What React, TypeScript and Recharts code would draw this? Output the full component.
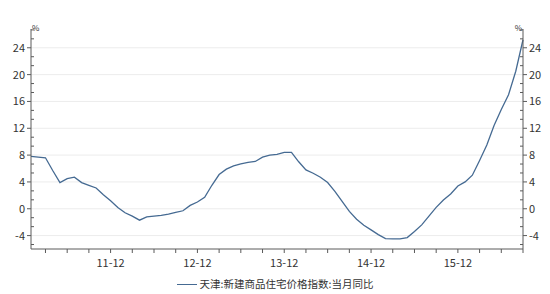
import { LineChart, Line, XAxis, YAxis, CartesianGrid } from 'recharts';

const FONT = '"Noto Sans CJK SC", "Open Sans", sans-serif';
const LINE_COLOR = '#456a92';
const AXIS_COLOR = '#5a5a5a';

const seriesName = '天津:新建商品住宅价格指数:当月同比';

// 2011-01 .. 2016-09, monthly
const months = [
  '11-01', '11-02', '11-03', '11-04', '11-05', '11-06', '11-07', '11-08', '11-09', '11-10', '11-11', '11-12',
  '12-01', '12-02', '12-03', '12-04', '12-05', '12-06', '12-07', '12-08', '12-09', '12-10', '12-11', '12-12',
  '13-01', '13-02', '13-03', '13-04', '13-05', '13-06', '13-07', '13-08', '13-09', '13-10', '13-11', '13-12',
  '14-01', '14-02', '14-03', '14-04', '14-05', '14-06', '14-07', '14-08', '14-09', '14-10', '14-11', '14-12',
  '15-01', '15-02', '15-03', '15-04', '15-05', '15-06', '15-07', '15-08', '15-09', '15-10', '15-11', '15-12',
  '16-01', '16-02', '16-03', '16-04', '16-05', '16-06', '16-07', '16-08', '16-09',
];

const yoy = [
  7.8, 7.7, 7.6, 5.7, 3.9, 4.5, 4.7, 3.9, 3.5, 3.1, 2.1, 1.2,
  0.2, -0.6, -1.1, -1.7, -1.2, -1.1, -1.0, -0.8, -0.55, -0.3, 0.5, 1.0,
  1.7, 3.5, 5.1, 5.9, 6.4, 6.7, 6.9, 7.05, 7.7, 8.0, 8.1, 8.4,
  8.4, 7.0, 5.8, 5.3, 4.7, 3.9, 2.6, 1.1, -0.4, -1.55, -2.45, -3.15,
  -3.85, -4.45, -4.5, -4.5, -4.3, -3.4, -2.4, -1.1, 0.2, 1.3, 2.2, 3.4,
  4.0, 5.0, 7.2, 9.5, 12.4, 14.8, 17.0, 20.5, 25.2,
];

const yMajorTicks = [-4, 0, 4, 8, 12, 16, 20, 24];
const yDomain: [number, number] = [-6, 26.8];

const data = months.map((m, i) => ({ idx: i, month: m, value: yoy[i] }));

// quarter-end months carry a tick; only December gets a label
const xTicks = months.map((m, i) => ({ m, i })).filter((d) => ['03', '06', '09', '12'].includes(d.m.slice(3))).map((d) => d.i);

// major ticks every 4, two minor ticks in between
const yTicks: number[] = [];
for (let k = Math.ceil((yDomain[0] * 3) / 4); (k * 4) / 3 <= yDomain[1]; k++) yTicks.push((k * 4) / 3);

const isMajor = (v: number) => Math.abs(v / 4 - Math.round(v / 4)) < 1e-6;

function YTick({ x, y, payload, side }: any) {
  const v = payload.value;
  const dir = side === 'left' ? -1 : 1;
  if (isMajor(v)) {
    return (
      <g>
        <line x1={x} x2={x + dir * 4} y1={y} y2={y} stroke={AXIS_COLOR} />
        <text
          x={x + dir * 6}
          y={y}
          dy="0.36em"
          textAnchor={side === 'left' ? 'end' : 'start'}
          fontSize={11}
          fontFamily={FONT}
          fill="#333"
        >
          {Math.round(v)}
        </text>
      </g>
    );
  }
  return <line x1={x} x2={x - dir * 3} y1={y} y2={y} stroke={AXIS_COLOR} />;
}

function PctLabel({ viewBox, side }: any) {
  if (!viewBox) return null;
  const x = side === 'left' ? viewBox.x + viewBox.width + 1 : viewBox.x - 1;
  return (
    <text
      x={x}
      y={viewBox.y + 2}
      textAnchor={side === 'left' ? 'start' : 'end'}
      fontSize={8}
      fontFamily={FONT}
      fill="#333"
    >
      %
    </text>
  );
}

export default function App() {
  return (
    <div style={{ position: 'absolute', left: 0, top: 0, width: 550, height: 294, background: '#fff' }}>
      <LineChart width={550} height={294} data={data} margin={{ top: 29, right: 0, bottom: 25, left: 0 }}>
        <CartesianGrid
          yAxisId="left"
          vertical={false}
          horizontalValues={yMajorTicks}
          stroke="#ececec"
        />
        <XAxis
          dataKey="idx"
          type="number"
          domain={[0, months.length - 1]}
          ticks={xTicks}
          interval={0}
          height={20}
          tickSize={4}
          tickMargin={6}
          stroke={AXIS_COLOR}
          tick={{ fontSize: 11, fontFamily: FONT, fill: '#333' }}
          tickFormatter={(i: number) => (months[i] && months[i].endsWith('-12') ? months[i] : '')}
        />
        <YAxis
          yAxisId="left"
          orientation="left"
          width={31}
          domain={yDomain}
          ticks={yTicks}
          interval={0}
          allowDataOverflow
          tickSize={0}
          tickMargin={0}
          tickLine={false}
          stroke={AXIS_COLOR}
          tick={<YTick side="left" />}
          label={<PctLabel side="left" />}
        />
        <YAxis
          yAxisId="right"
          orientation="right"
          width={27}
          domain={yDomain}
          ticks={yTicks}
          interval={0}
          allowDataOverflow
          tickSize={0}
          tickMargin={0}
          tickLine={false}
          stroke={AXIS_COLOR}
          tick={<YTick side="right" />}
          label={<PctLabel side="right" />}
        />
        <Line
          yAxisId="left"
          type="linear"
          dataKey="value"
          name={seriesName}
          stroke={LINE_COLOR}
          strokeWidth={1.3}
          dot={false}
          isAnimationActive={false}
        />
      </LineChart>
      <div
        style={{
          position: 'absolute',
          top: 278,
          left: 0,
          width: 550,
          display: 'flex',
          justifyContent: 'center',
          alignItems: 'center',
          fontFamily: FONT,
          fontSize: 10.5,
          lineHeight: '12px',
          color: '#333',
        }}
      >
        <span style={{ display: 'inline-block', width: 20, height: 0, borderTop: `1.3px solid ${LINE_COLOR}`, marginRight: 3 }} />
        <span>{seriesName}</span>
      </div>
    </div>
  );
}
